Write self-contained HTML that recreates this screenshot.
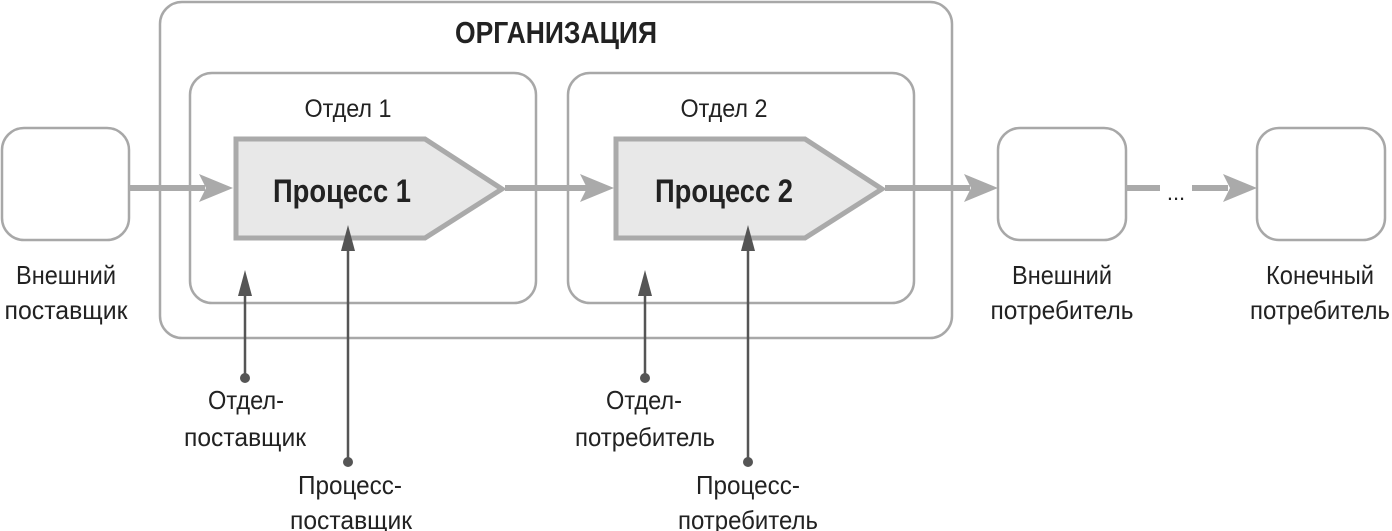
<!DOCTYPE html>
<html><head><meta charset="utf-8"><style>
html,body{margin:0;padding:0;background:#fff;}
svg{display:block;}
text{font-family:"Liberation Sans",sans-serif;fill:#222;}
.l{font-size:26px;text-anchor:middle;}
.b{font-weight:bold;text-anchor:middle;}
</style></head><body>
<svg width="1392" height="531" viewBox="0 0 1392 531" xmlns="http://www.w3.org/2000/svg">
<g fill="none" stroke="#a8a8a8" stroke-width="2.5">
<rect x="160" y="2" width="792" height="336" rx="22"/>
<rect x="190" y="73" width="346" height="230" rx="22"/>
<rect x="568" y="73" width="346" height="230" rx="22"/>
<rect x="2" y="128" width="127" height="112" rx="22"/>
<rect x="998" y="128" width="128" height="112" rx="22"/>
<rect x="1257" y="128" width="128" height="112" rx="22"/>
</g>
<g stroke="#aaa" stroke-width="6" fill="none">
<line x1="129" y1="188" x2="205" y2="188"/>
<line x1="505" y1="188" x2="588" y2="188"/>
<line x1="885" y1="188" x2="970" y2="188"/>
<line x1="1126" y1="188" x2="1160" y2="188"/>
<line x1="1192" y1="188" x2="1228" y2="188"/>
</g>
<g fill="#aaa">
<polygon points="233,188 199,174 206,188 199,202"/>
<polygon points="614,188 580,174 587,188 580,202"/>
<polygon points="998,188 964,174 971,188 964,202"/>
<polygon points="1257,188 1223,174 1230,188 1223,202"/>
</g>
<text x="1176" y="200" style="font-size:22px;text-anchor:middle">...</text>
<polygon points="236,139 425,139 502,189 425,238 236,238" fill="#e8e8e8" stroke="#aaa" stroke-width="5"/>
<polygon points="616,139 805,139 882,189 805,238 616,238" fill="#e8e8e8" stroke="#aaa" stroke-width="5"/>
<g stroke="#555" stroke-width="2.5">
<line x1="245" y1="378" x2="245" y2="290"/>
<line x1="348" y1="462" x2="348" y2="245"/>
<line x1="645" y1="378" x2="645" y2="290"/>
<line x1="748" y1="462" x2="748" y2="245"/>
</g>
<g fill="#555">
<circle cx="245" cy="378" r="5"/><circle cx="348" cy="462" r="5"/>
<circle cx="645" cy="378" r="5"/><circle cx="748" cy="462" r="5"/>
<polygon points="245,270 238,296 252,296"/>
<polygon points="348,225 341,251 355,251"/>
<polygon points="645,270 638,296 652,296"/>
<polygon points="748,225 741,251 755,251"/>
</g>
<text x="556" y="43" class="b" style="font-size:31px" textLength="202" lengthAdjust="spacingAndGlyphs">ОРГАНИЗАЦИЯ</text>
<text x="348" y="117" class="l" style="font-size:25px" textLength="87" lengthAdjust="spacingAndGlyphs">Отдел 1</text>
<text x="724" y="117" class="l" style="font-size:25px" textLength="87" lengthAdjust="spacingAndGlyphs">Отдел 2</text>
<text x="342" y="202" class="b" style="font-size:32px" textLength="138" lengthAdjust="spacingAndGlyphs">Процесс 1</text>
<text x="724" y="202" class="b" style="font-size:32px" textLength="138" lengthAdjust="spacingAndGlyphs">Процесс 2</text>
<text x="66" y="284" class="l" textLength="100" lengthAdjust="spacingAndGlyphs">Внешний</text>
<text x="66" y="319" class="l" textLength="123" lengthAdjust="spacingAndGlyphs">поставщик</text>
<text x="1062" y="284" class="l" textLength="100" lengthAdjust="spacingAndGlyphs">Внешний</text>
<text x="1062" y="319" class="l" textLength="143" lengthAdjust="spacingAndGlyphs">потребитель</text>
<text x="1320" y="284" class="l" textLength="108" lengthAdjust="spacingAndGlyphs">Конечный</text>
<text x="1320" y="319" class="l" textLength="140" lengthAdjust="spacingAndGlyphs">потребитель</text>
<text x="246" y="409" class="l" textLength="76" lengthAdjust="spacingAndGlyphs">Отдел-</text>
<text x="245" y="446" class="l" textLength="122" lengthAdjust="spacingAndGlyphs">поставщик</text>
<text x="644" y="409" class="l" textLength="76" lengthAdjust="spacingAndGlyphs">Отдел-</text>
<text x="645" y="446" class="l" textLength="140" lengthAdjust="spacingAndGlyphs">потребитель</text>
<text x="350" y="494" class="l" textLength="104" lengthAdjust="spacingAndGlyphs">Процесс-</text>
<text x="351" y="529" class="l" textLength="122" lengthAdjust="spacingAndGlyphs">поставщик</text>
<text x="748" y="494" class="l" textLength="104" lengthAdjust="spacingAndGlyphs">Процесс-</text>
<text x="748" y="529" class="l" textLength="140" lengthAdjust="spacingAndGlyphs">потребитель</text>
</svg>
</body></html>
